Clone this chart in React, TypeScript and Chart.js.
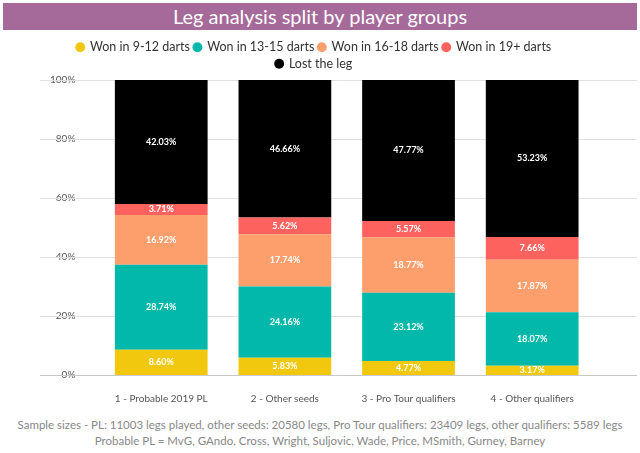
import React, { useEffect, useRef } from "react";
import { Chart, registerables } from "chart.js";
Chart.register(...registerables);

const categories = ["1 - Probable 2019 PL", "2 - Other seeds", "3 - Pro Tour qualifiers", "4 - Other qualifiers"];
const won9to12 = [8.6, 5.83, 4.77, 3.17];
const won13to15 = [28.74, 24.16, 23.12, 18.07];
const won16to18 = [16.92, 17.74, 18.77, 17.87];
const won19plus = [3.71, 5.62, 5.57, 7.66];
const lostLeg = [42.03, 46.66, 47.77, 53.23];
const seriesNames = ["Won in 9-12 darts", "Won in 13-15 darts", "Won in 16-18 darts", "Won in 19+ darts", "Lost the leg"];
const seriesColors = ["#F2C80F", "#01B8AA", "#FD9F6C", "#FD625E", "#000000"];
const FONT = "Lato, 'Open Sans', sans-serif";

const gridPlugin = {
  id: "wideGrid",
  beforeDatasetsDraw(chart: any) {
    const ctx = chart.ctx;
    const y = chart.scales.y;
    ctx.save();
    ctx.lineWidth = 1;
    y.ticks.forEach((t: any) => {
      const py = Math.round(y.getPixelForValue(t.value)) + 0.5;
      ctx.strokeStyle = t.value === 0 ? "#c8c8c8" : "#e0e0e0";
      ctx.beginPath();
      ctx.moveTo(40, py);
      ctx.lineTo(637, py);
      ctx.stroke();
    });
    ctx.restore();
  },
};

const labelPlugin = {
  id: "segLabels",
  afterDatasetsDraw(chart: any) {
    const ctx = chart.ctx;
    ctx.save();
    ctx.font = `bold 9px ${FONT}`;
    ctx.fillStyle = "#ffffff";
    ctx.textAlign = "center";
    ctx.textBaseline = "middle";
    chart.data.datasets.forEach((ds: any, di: number) => {
      const meta = chart.getDatasetMeta(di);
      meta.data.forEach((bar: any, i: number) => {
        const y = (bar.y + bar.base) / 2;
        ctx.fillText(ds.data[i].toFixed(2) + "%", bar.x, y);
      });
    });
    ctx.restore();
  },
};

export default function App() {
  const ref = useRef<HTMLCanvasElement>(null);
  useEffect(() => {
    document.body.style.margin = "0";
    const data = [won9to12, won13to15, won16to18, won19plus, lostLeg];
    const chart = new Chart(ref.current!, {
      type: "bar",
      data: {
        labels: categories,
        datasets: data.map((d, i) => ({
          label: seriesNames[i],
          data: d,
          backgroundColor: seriesColors[i],
          barPercentage: 0.75,
          categoryPercentage: 1,
        })),
      },
      options: {
        animation: false,
        responsive: false,
        layout: { padding: { left: 34, right: 46, top: 0, bottom: 0 } },
        plugins: {
          legend: {
            position: "top",
            labels: {
              usePointStyle: true,
              pointStyle: "circle",
              boxWidth: 7,
              boxHeight: 7,
              padding: 4,
              color: "#333",
              font: { family: FONT, size: 12.5 },
            },
          },
          tooltip: { enabled: false },
        },
        scales: {
          x: {
            stacked: true,
            grid: { display: false },
            border: { display: false },
            ticks: { color: "#555", font: { family: FONT, size: 10 }, padding: 10 },
          },
          y: {
            stacked: true,
            min: 0,
            max: 100,
            ticks: { stepSize: 20, callback: (v: any) => v + "%", color: "#555", font: { family: FONT, size: 10 }, padding: 16 },
            grid: { display: false },
            border: { display: false },
          },
        },
      },
      plugins: [gridPlugin, labelPlugin],
    });
    return () => chart.destroy();
  }, []);
  return (
    <div style={{ position: "relative", width: 640, height: 453, background: "#fff", fontFamily: FONT }}>
      <div style={{ position: "absolute", left: 3, top: 3, width: 634, height: 27, background: "#A5699A", color: "#fff", fontSize: 20, textAlign: "center", lineHeight: "27px" }}>
        Leg analysis split by player groups
      </div>
      <canvas ref={ref} width={640} height={378} style={{ position: "absolute", left: 0, top: 37 }} />
      <div style={{ position: "absolute", left: 0, top: 417, width: 640, textAlign: "center", color: "#888", fontSize: 11.5, lineHeight: "16px" }}>
        Sample sizes - PL: 11003 legs played, other seeds: 20580 legs, Pro Tour qualifiers: 23409 legs, other qualifiers: 5589 legs
        <br />
        Probable PL = MvG, GAndo, Cross, Wright, Suljovic, Wade, Price, MSmith, Gurney, Barney
      </div>
    </div>
  );
}
